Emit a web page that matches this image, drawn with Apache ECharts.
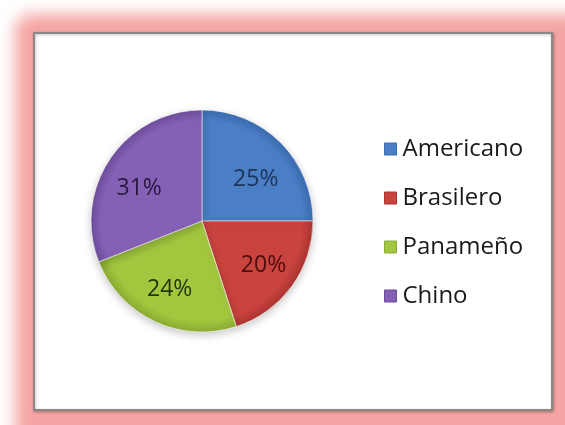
<!DOCTYPE html>
<html><head><meta charset="utf-8">
<script src="https://cdn.jsdelivr.net/npm/echarts@6/dist/echarts.min.js"></script>
<style>html,body{margin:0;padding:0;background:#fff;}#c{width:565px;height:425px;}</style>
</head><body><div id="c"></div>
<script>
var categories = ['Americano', 'Brasilero', 'Panameño', 'Chino'];
var values = [25, 20, 24, 31];
var labels = ['25%', '20%', '24%', '31%'];
var colors = ['#4A7FC6', '#C9433F', '#A3C63F', '#8561B5'];
var edgeColors = ['#3B6BB0', '#AC3531', '#8AAB32', '#6D4E9C'];
var labelColors = ['#1C3458', '#4A0E0C', '#26340C', '#28183E'];

var chart = echarts.init(document.getElementById('c'), null, {renderer: 'canvas'});
var cx = 202, cy = 221, R = 111;

function fillFor(i) {
  return new echarts.graphic.RadialGradient(cx, cy, R, [
    {offset: 0, color: colors[i]},
    {offset: 0.9, color: colors[i]},
    {offset: 1, color: edgeColors[i]}
  ], true);
}

var labelOffsets = [[0, 12], [0, 0], [0, 0], [0, 10]];
var pieData = categories.map(function (c, i) {
  return {name: c, value: values[i], itemStyle: {color: fillFor(i)}};
});
var labelData = categories.map(function (c, i) {
  return {name: c, value: values[i],
    label: {formatter: labels[i], color: labelColors[i], offset: labelOffsets[i]}};
});

chart.setOption({
  animation: false,
  graphic: [
    {type: 'rect', silent: true, z: -10,
      shape: {x: 15 - 3000, y: 14, width: 600, height: 460, r: 16},
      style: {fill: '#F5A4A3', shadowBlur: 16, shadowOffsetX: 3000, shadowColor: '#F5A4A3'}},
    {type: 'rect', silent: true, z: -9,
      shape: {x: 34, y: 33, width: 518, height: 377},
      style: {fill: '#ffffff', stroke: '#8C8686', lineWidth: 2,
        shadowBlur: 3, shadowOffsetX: 1, shadowOffsetY: 1, shadowColor: 'rgba(0,0,0,0.25)'}}
  ],
  legend: {
    orient: 'vertical',
    left: 379, top: 132,
    itemWidth: 12, itemHeight: 12, itemGap: 25,
    icon: 'rect',
    data: categories.map(function (c, i) {
      return {name: c, itemStyle: {color: colors[i], borderColor: edgeColors[i], borderWidth: 1}};
    }),
    textStyle: {fontFamily: 'Open Sans', fontSize: 24, lineHeight: 24, color: '#1a1a1a', padding: [0, 0, 0, 1]}
  },
  series: [
    {type: 'pie', center: [cx, cy], radius: [0, R], startAngle: 90, clockwise: true,
      data: pieData, label: {show: false}, labelLine: {show: false}, silent: true,
      itemStyle: {borderColor: 'rgba(255,255,255,0.55)', borderWidth: 1,
        shadowBlur: 8, shadowOffsetY: 3, shadowColor: 'rgba(0,0,0,0.22)'}},
    {type: 'pie', center: [cx, cy], radius: [46, 100], startAngle: 90, clockwise: true,
      data: labelData, silent: true, legendHoverLink: false,
      itemStyle: {color: 'rgba(0,0,0,0)', borderWidth: 0},
      label: {show: true, position: 'inside', fontFamily: 'Open Sans', fontSize: 23},
      labelLine: {show: false}}
  ]
});
</script></body></html>
